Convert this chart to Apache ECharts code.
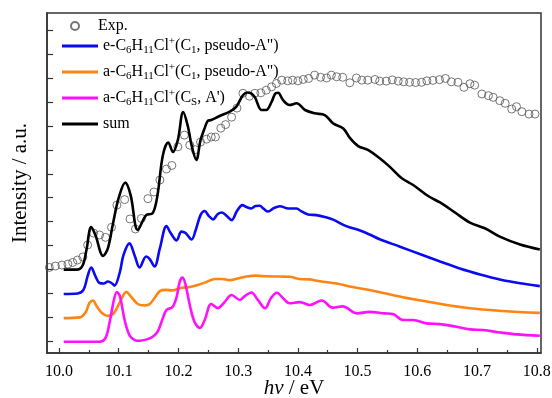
<!DOCTYPE html>
<html>
<head>
<meta charset="utf-8">
<script src="https://cdn.jsdelivr.net/npm/echarts@6/dist/echarts.min.js"></script>
<style>html,body{margin:0;padding:0;background:#fff}#c{width:552px;height:398px}</style>
</head>
<body>
<div id="c"></div>
<script>
// ---- data (x in eV, y in arbitrary intensity units) ----
const expX = [9.984,9.994,10.005,10.015,10.023,10.031,10.040,10.048,10.058,10.068,10.078,10.088,10.097,10.110,10.119,10.128,10.138,10.149,10.159,10.169,10.180,10.189,10.199,10.210,10.219,10.228,10.237,10.247,10.255,10.262,10.271,10.279,10.289,10.298,10.308,10.319,10.328,10.338,10.347,10.356,10.364,10.373,10.383,10.391,10.400,10.409,10.418,10.428,10.438,10.448,10.456,10.465,10.475,10.487,10.498,10.507,10.517,10.529,10.537,10.548,10.558,10.568,10.577,10.587,10.597,10.607,10.616,10.626,10.637,10.647,10.657,10.668,10.678,10.688,10.696,10.708,10.719,10.727,10.738,10.747,10.758,10.766,10.775,10.787,10.797];
const expY = [3.58,3.64,3.68,3.72,3.79,3.89,4.02,4.52,5.02,4.94,4.84,5.26,6.19,6.42,5.61,5.19,5.63,6.46,6.74,7.24,7.70,7.85,8.63,9.12,8.70,8.51,8.83,8.95,9.04,9.04,9.41,9.56,9.87,10.25,10.87,10.75,10.87,10.89,11.00,11.14,11.28,11.42,11.39,11.42,11.39,11.45,11.49,11.63,11.54,11.51,11.63,11.56,11.54,11.31,11.51,11.42,11.42,11.45,11.38,11.38,11.43,11.38,11.35,11.33,11.32,11.33,11.39,11.41,11.44,11.49,11.35,11.33,11.12,11.27,11.21,10.84,10.77,10.70,10.56,10.45,10.21,10.31,10.10,10.00,10.00];

const eqX = [10.008,10.031,10.041,10.048,10.054,10.061,10.068,10.075,10.082,10.088,10.093,10.102,10.108,10.118,10.127,10.135,10.146,10.152,10.160,10.169,10.180,10.187,10.197,10.205,10.212,10.222,10.229,10.237,10.244,10.251,10.258,10.266,10.273,10.281,10.289,10.298,10.307,10.314,10.322,10.329,10.336,10.343,10.350,10.360,10.370,10.384,10.398,10.405,10.417,10.431,10.445,10.459,10.481,10.504,10.520,10.537,10.571,10.604,10.638,10.671,10.705,10.738,10.772,10.805];
const eqY = [2.47,2.49,2.64,3.22,3.58,3.22,2.93,2.91,2.99,2.93,2.82,3.39,4.10,4.59,4.06,3.58,4.04,3.93,3.62,4.39,5.31,5.02,4.71,5.08,5.02,4.75,5.15,5.77,5.94,5.73,5.59,5.82,5.88,5.73,5.56,5.94,6.19,6.11,6.05,6.15,6.16,6.03,5.92,6.07,6.14,6.05,6.05,5.94,5.80,5.77,5.69,5.58,5.31,5.13,4.96,4.76,4.45,4.14,3.83,3.54,3.29,3.08,2.92,2.80];

const ax1X = [10.008,10.035,10.045,10.051,10.057,10.063,10.072,10.082,10.092,10.102,10.113,10.120,10.132,10.144,10.152,10.160,10.169,10.179,10.190,10.205,10.219,10.233,10.247,10.261,10.273,10.286,10.299,10.314,10.329,10.347,10.370,10.386,10.403,10.420,10.437,10.465,10.487,10.520,10.576,10.632,10.688,10.743,10.805];
const ax1Y = [1.46,1.49,1.72,2.09,2.20,1.97,1.67,1.55,1.67,2.13,2.56,2.38,2.05,1.99,2.05,2.30,2.59,2.64,2.62,2.73,2.76,2.85,2.97,3.10,3.10,3.05,3.12,3.20,3.24,3.21,3.20,3.19,3.10,3.08,3.00,2.91,2.78,2.64,2.33,2.08,1.87,1.76,1.68];

const axsX = [10.008,10.068,10.078,10.085,10.092,10.097,10.102,10.110,10.118,10.127,10.135,10.147,10.157,10.165,10.174,10.180,10.190,10.197,10.202,10.207,10.212,10.219,10.227,10.236,10.244,10.255,10.266,10.276,10.289,10.303,10.311,10.322,10.333,10.345,10.355,10.365,10.375,10.386,10.403,10.420,10.440,10.458,10.475,10.499,10.520,10.545,10.559,10.576,10.593,10.615,10.637,10.663,10.688,10.710,10.738,10.766,10.805];
const axsY = [0.47,0.47,0.63,1.30,2.22,2.55,2.38,1.38,0.75,0.54,0.51,0.57,0.68,0.88,1.46,1.80,1.92,2.34,2.97,3.16,2.85,2.01,1.30,1.05,1.38,2.05,1.88,2.09,2.43,2.22,2.38,2.53,2.22,1.87,2.30,2.52,2.30,2.08,2.13,2.01,2.20,1.90,1.95,1.66,1.72,1.66,1.63,1.38,1.38,1.24,1.21,1.11,0.99,0.96,0.86,0.78,0.72];

const sumX = [10.008,10.031,10.040,10.046,10.054,10.061,10.074,10.082,10.090,10.100,10.111,10.120,10.132,10.146,10.157,10.165,10.174,10.183,10.191,10.199,10.208,10.216,10.222,10.230,10.237,10.244,10.249,10.255,10.269,10.286,10.297,10.308,10.316,10.321,10.328,10.339,10.347,10.356,10.363,10.367,10.375,10.386,10.398,10.412,10.428,10.445,10.459,10.476,10.487,10.501,10.518,10.537,10.554,10.574,10.593,10.618,10.638,10.663,10.688,10.713,10.738,10.772,10.805];
const sumY = [3.49,3.49,3.68,4.31,5.27,4.94,4.06,4.39,5.36,6.49,7.13,6.61,5.15,5.77,5.85,6.61,8.28,8.81,8.41,8.91,10.08,9.47,8.70,8.08,8.91,9.41,9.71,9.75,9.92,10.10,10.31,10.79,10.90,10.88,10.71,10.17,10.17,10.51,10.88,10.89,10.59,10.38,10.45,10.17,10.03,9.96,9.61,9.40,9.00,8.66,8.49,8.15,7.79,7.31,7.03,6.57,6.30,5.88,5.46,5.22,4.87,4.54,4.33];

const xTicks = [10.0,10.1,10.2,10.3,10.4,10.5,10.6,10.7,10.8];
const xMinorTicks = [10.05,10.15,10.25,10.35,10.45,10.55,10.65,10.75];
const yTicks = [0.5,1.5,2.5,3.5,4.5,5.5,6.5,7.5,8.5,9.5,10.5,11.5,12.5,13.5];

const nameExp = 'Exp.';
const nameEq = 'e-C6H11Cl+(C1, pseudo-A")';
const nameAx1 = 'a-C6H11Cl+(C1, pseudo-A")';
const nameAxs = "a-C6H11Cl+(Cs, A')";
const nameSum = 'sum';
const richNames = {};
richNames[nameEq] = 'e-C{sb|6}H{sb|11}Cl{sp|+}(C{sb|1}, pseudo-A")';
richNames[nameAx1] = 'a-C{sb|6}H{sb|11}Cl{sp|+}(C{sb|1}, pseudo-A")';
richNames[nameAxs] = "a-C{sb|6}H{sb|11}Cl{sp|+}(C{sb|S}, A')";
richNames[nameSum] = 'sum';

const pair = (xs, ys) => xs.map((x, i) => [x, ys[i]]);
const SERIF = 'Liberation Serif, DejaVu Serif, serif';

const chart = echarts.init(document.getElementById('c'), null, {renderer: 'canvas'});
const lineSeries = (name, xs, ys, color) => ({
  name, type: 'line', data: pair(xs, ys), symbol: 'none', showSymbol: false,
  smooth: 0.35, lineStyle: {color, width: 2.6}, itemStyle: {color}, z: 3
});

chart.setOption({
  animation: false,
  backgroundColor: '#fff',
  grid: {left: 47, right: 11, top: 13, bottom: 45, outerBoundsMode: 'none', containLabel: false,
         show: true, borderColor: '#333', borderWidth: 1.5, backgroundColor: 'transparent'},
  legend: [
    {
      data: [nameExp], orient: 'vertical', left: 65, top: 13,
      itemWidth: 36, itemHeight: 8,
      textStyle: {fontFamily: SERIF, fontSize: 16, color: '#000', lineHeight: 16}
    },
    {
      data: [nameEq, nameAx1, nameAxs, nameSum].map(n => ({name: n, icon: 'rect'})),
      orient: 'vertical', left: 57, top: 31,
      itemWidth: 36, itemHeight: 3, itemGap: 6,
      formatter: n => richNames[n],
      textStyle: {
        fontFamily: SERIF, fontSize: 16, color: '#000', lineHeight: 20,
        rich: {
          sb: {fontFamily: SERIF, fontSize: 11, color: '#000', verticalAlign: 'bottom', lineHeight: 8},
          sp: {fontFamily: SERIF, fontSize: 11, color: '#000', verticalAlign: 'top', lineHeight: 8}
        }
      }
    }
  ],
  xAxis: [
    {
      type: 'value', min: 9.98, max: 10.807,
      name: '{it|hν}{n| / eV}', nameLocation: 'middle', nameGap: 25, nameMoveOverlap: false,
      nameTextStyle: {
        rich: {
          it: {fontFamily: SERIF, fontSize: 21, fontStyle: 'italic', color: '#000'},
          n: {fontFamily: SERIF, fontSize: 21, color: '#000'}
        }
      },
      axisLine: {show: true, lineStyle: {color: '#333', width: 1.5}},
      axisTick: {show: true, inside: true, length: 5, customValues: xTicks, lineStyle: {color: '#333', width: 1.2}},
      axisLabel: {show: true, customValues: xTicks, formatter: v => v.toFixed(1), fontFamily: SERIF, fontSize: 16, color: '#000', margin: 11},
      splitLine: {show: false}
    },
    {
      type: 'value', min: 9.98, max: 10.807, position: 'bottom', gridIndex: 0,
      axisLine: {show: false},
      axisTick: {show: true, inside: true, length: 3, customValues: xMinorTicks, lineStyle: {color: '#333', width: 1.2}},
      axisLabel: {show: false},
      splitLine: {show: false}
    }
  ],
  yAxis: {
    type: 'value', min: 0, max: 14.23,
    name: 'Intensity / a.u.', nameLocation: 'middle', nameGap: 16, nameMoveOverlap: false,
    nameTextStyle: {fontFamily: SERIF, fontSize: 21, color: '#000'},
    axisLine: {show: true, lineStyle: {color: '#333', width: 1.5}},
    axisTick: {show: true, inside: true, length: 6, customValues: yTicks, lineStyle: {color: '#333', width: 1.2}},
    axisLabel: {show: false},
    splitLine: {show: false}
  },
  series: [
    {
      name: nameExp, type: 'scatter', data: pair(expX, expY), symbol: 'circle', symbolSize: 8,
      itemStyle: {color: 'rgba(255,255,255,0)', borderColor: '#555', borderWidth: 1}, z: 2
    },
    lineSeries(nameEq, eqX, eqY, '#0a0af5'),
    lineSeries(nameAx1, ax1X, ax1Y, '#ff8411'),
    lineSeries(nameAxs, axsX, axsY, '#ff10ff'),
    lineSeries(nameSum, sumX, sumY, '#000000')
  ]
});
</script>
</body>
</html>
